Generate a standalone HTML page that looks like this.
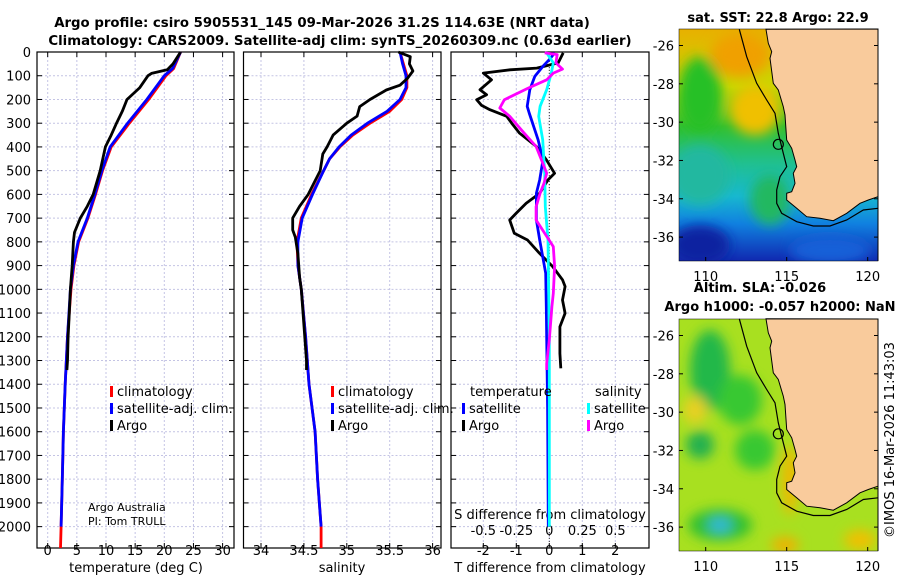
<!DOCTYPE html>
<html><head><meta charset="utf-8"><style>
html,body{margin:0;padding:0;background:#fff;}
svg{display:block;font-family:"DejaVu Sans","Liberation Sans",sans-serif;}
</style></head><body>
<svg id="fig" width="900" height="580" viewBox="0 0 900 580" xmlns="http://www.w3.org/2000/svg">
<defs>
<clipPath id="cm1"><rect x="679" y="29" width="199" height="232"/></clipPath>
<clipPath id="cm2"><rect x="679" y="319" width="199" height="232"/></clipPath>
<linearGradient id="sstg" x1="0" y1="0" x2="0" y2="1">
<stop offset="0" stop-color="#e8b000"/><stop offset="0.25" stop-color="#c8d800"/><stop offset="0.42" stop-color="#30c030"/>
<stop offset="0.58" stop-color="#20c090"/><stop offset="0.72" stop-color="#18b8d0"/><stop offset="0.84" stop-color="#1080e0"/><stop offset="1" stop-color="#1028b0"/>
</linearGradient>
<filter id="blur"><feGaussianBlur stdDeviation="6"/></filter>
</defs>
<text x="322" y="27" text-anchor="middle" font-size="13.3" font-weight="bold">Argo profile: csiro 5905531_145 09-Mar-2026 31.2S 114.63E (NRT data)</text>
<text x="340" y="45" text-anchor="middle" font-size="13.3" font-weight="bold">Climatology: CARS2009. Satellite-adj clim: synTS_20260309.nc (0.63d earlier)</text>
<g id="panels"></g>
<g id="maps">
 <g clip-path="url(#cm1)">
  <rect x="679" y="29" width="199" height="232" fill="url(#sstg)"/>
  <g filter="url(#blur)">
   <ellipse cx="700" cy="95" rx="22" ry="38" fill="#28c028"/>
   <ellipse cx="740" cy="55" rx="30" ry="22" fill="#f0a000"/>
   <ellipse cx="755" cy="110" rx="25" ry="25" fill="#f0c000"/>
   <ellipse cx="700" cy="175" rx="30" ry="30" fill="#20b8a0"/>
   <ellipse cx="700" cy="245" rx="30" ry="20" fill="#0820a0"/>
   <ellipse cx="830" cy="250" rx="40" ry="14" fill="#1860d8"/>
   <ellipse cx="770" cy="200" rx="20" ry="25" fill="#20b860"/>
  </g>
 </g>
 <g clip-path="url(#cm2)">
  <rect x="679" y="319" width="199" height="232" fill="#a8e020"/>
  <g filter="url(#blur)">
   <ellipse cx="710" cy="370" rx="20" ry="40" fill="#20b848"/>
   <ellipse cx="740" cy="400" rx="22" ry="25" fill="#38c830"/>
   <ellipse cx="700" cy="445" rx="14" ry="14" fill="#20b050"/>
   <ellipse cx="755" cy="450" rx="20" ry="20" fill="#38c830"/>
   <ellipse cx="720" cy="525" rx="32" ry="16" fill="#30c030"/>
   <ellipse cx="720" cy="525" rx="12" ry="8" fill="#30b8d8"/>
   <ellipse cx="695" cy="410" rx="12" ry="14" fill="#e8d020"/>
   <ellipse cx="785" cy="545" rx="14" ry="8" fill="#f0b000"/>
   <ellipse cx="860" cy="540" rx="16" ry="10" fill="#f0c000"/>
   <ellipse cx="790" cy="480" rx="8" ry="35" fill="#f0b800"/>
  </g>
 </g>
</g>
<g id="mapover"></g>
<text transform="translate(894,440) rotate(-90)" text-anchor="middle" font-size="13">©IMOS 16-Mar-2026 11:43:03</text>
<text x="778" y="22" text-anchor="middle" font-size="13" font-weight="bold">sat. SST: 22.8 Argo: 22.9</text>
<text x="760" y="292" text-anchor="middle" font-size="13" font-weight="bold">Altim. SLA: -0.026</text>
<text x="780" y="311" text-anchor="middle" font-size="13" font-weight="bold">Argo h1000: -0.057 h2000: NaN</text>
</svg>
<script>
// ---- data ----
const depthTClim = [0,70,100,200,300,400,500,600,700,800,900,1000,1200,1400,1600,1800,2000,2090];
const tempClim = [22.8,21.6,20.3,17.3,14.0,10.9,9.4,8.2,6.9,5.3,4.5,4.0,3.4,3.0,2.7,2.5,2.3,2.2];
const depthTSat = [0,70,100,200,300,400,500,600,700,800,900,1000,1200,1400,1600,1800,2000];
const tempSat = [22.8,21.4,20.0,17.0,13.7,10.7,9.3,8.1,6.8,5.2,4.4,3.9,3.4,3.0,2.7,2.5,2.3];
const depthArgoT = [0,50,75,90,100,150,200,250,300,350,400,500,600,650,700,760,800,900,1000,1100,1200,1300,1340];
const tempArgo = [22.8,21.5,20.5,17.8,17.2,15.8,13.6,12.8,11.8,10.9,9.9,9.0,7.8,6.8,5.6,4.6,4.4,4.2,3.9,3.7,3.5,3.4,3.3];
const depthSClim = [0,50,100,150,200,250,300,350,400,450,500,600,700,800,900,1000,1200,1400,1600,1800,2000,2090];
const salClim = [35.62,35.66,35.70,35.70,35.64,35.50,35.27,35.07,34.92,34.80,34.73,34.59,34.47,34.42,34.43,34.47,34.52,34.56,34.63,34.66,34.70,34.70];
const depthSSat = [0,50,100,150,200,250,300,350,400,450,500,600,700,800,900,1000,1200,1400,1600,1800,2000];
const salSat = [35.62,35.65,35.69,35.69,35.62,35.47,35.24,35.05,34.91,34.80,34.73,34.60,34.48,34.43,34.43,34.47,34.52,34.56,34.63,34.66,34.70];
const depthArgoS = [0,20,50,80,110,140,160,200,230,270,300,350,400,430,500,600,650,700,750,780,850,950,1000,1300,1340];
const salArgo = [35.60,35.74,35.73,35.77,35.71,35.62,35.46,35.27,35.15,35.12,35.00,34.84,34.77,34.72,34.69,34.55,34.45,34.37,34.37,34.40,34.43,34.45,34.47,34.53,34.53];
const depthDTArgo = [4,46,68,75,89,117,159,180,201,225,243,271,300,342,398,454,511,539,595,637,679,708,764,792,848,904,960,988,1045,1101,1158,1270,1333];
const dTArgo = [0.42,0.27,-0.38,-1.19,-2.0,-1.75,-2.1,-1.9,-2.2,-2.05,-1.8,-1.29,-1.14,-0.9,-0.39,-0.09,0.16,-0.04,-0.29,-0.7,-1.0,-1.2,-1.06,-0.66,-0.3,0.1,0.4,0.48,0.4,0.48,0.32,0.32,0.35];
const depthDTSat = [4,32,60,103,159,229,257,370,454,539,595,708,792,932,1073,1500,2000];
const dTSat = [0.16,0.0,-0.19,-0.44,-0.59,-0.67,-0.61,-0.34,-0.19,-0.29,-0.39,-0.39,-0.29,-0.11,-0.09,-0.05,-0.03];
const depthDSSat = [4,46,89,159,229,271,370,511,652,792,1200,2000];
const dSSat = [-0.02,0.03,0.015,-0.02,-0.07,-0.08,-0.05,-0.035,-0.03,-0.01,0,0];
const depthDSArgo = [4,11,46,72,89,117,152,201,236,271,342,398,454,511,553,595,652,708,764,820,904,1017,1073,1213,1312,1340];
const dSArgo = [-0.035,0.06,0.05,0.1,0.03,-0.02,-0.16,-0.34,-0.375,-0.3,-0.19,-0.1,-0.06,-0.02,-0.04,-0.07,-0.1,-0.1,-0.035,0.03,0.04,0.03,0.02,0.0,-0.02,-0.02];
const depthTicks = [0,100,200,300,400,500,600,700,800,900,1000,1100,1200,1300,1400,1500,1600,1700,1800,1900,2000];
const tempTicks = [0,5,10,15,20,25,30];
const salTicks = [34,34.5,35,35.5,36];
const salTickLabels = ["34","34.5","35","35.5","36"];
const dTTicks = [-2,-1,0,1,2];
const dSTicks = [-0.5,-0.25,0,0.25,0.5];
const dSTickLabels = ["-0.5","-0.25","0","0.25","0.5"];
const latTicks = [-26,-28,-30,-32,-34,-36];
const lonTicks = [110,115,120];

// ---- axes ----
const Y0=52, Y1=548, DMAX=2090;
const yD = d => Y0 + d/DMAX*(Y1-Y0);
const xT = t => 47.7 + t*5.83;
const xS = s => 261 + (s-34)*85.8;
const xDT = t => 549.3 + t*33;
const xDS = s => 549.3 + s*4*33;
const NS='http://www.w3.org/2000/svg';
const root=document.getElementById('panels');
function mk(tag,attrs,parent){const e=document.createElementNS(NS,tag);for(const k in attrs)e.setAttribute(k,attrs[k]);(parent||root).appendChild(e);return e;}
function txt(x,y,s,size,anchor,parent){const e=mk('text',{x:x,y:y,'font-size':size,'text-anchor':anchor||'start'},parent);e.textContent=s;return e;}
function line(xs,ds,xf,color,name,w){
  let p='';for(let i=0;i<xs.length;i++){p+=(i?'L':'M')+xf(xs[i]).toFixed(1)+','+yD(ds[i]).toFixed(1);}
  const e=mk('path',{d:p,fill:'none',stroke:color,'stroke-width':w||2.8,'stroke-linejoin':'round'});
  
  
  return e;
}
const panels=[{l:37,r:234,xf:xT,ticks:tempTicks,name:'temperature-panel'},{l:243.5,r:441,xf:xS,ticks:salTicks,name:'salinity-panel'},{l:451,r:649,xf:xDT,ticks:dTTicks,name:'difference-panel'}];
panels.forEach(p=>{
  const g=mk('g',{});
  
  
  depthTicks.forEach(d=>{mk('line',{x1:p.l,x2:p.r,y1:yD(d),y2:yD(d),stroke:'#c4c4e4','stroke-width':1,'stroke-dasharray':'2,2'},g);
    mk('line',{x1:p.l,x2:p.l+5,y1:yD(d),y2:yD(d),stroke:'#000'},g);mk('line',{x1:p.r-5,x2:p.r,y1:yD(d),y2:yD(d),stroke:'#000'},g);});
  p.ticks.forEach(t=>{const x=p.xf(t);mk('line',{x1:x,x2:x,y1:Y0,y2:Y1,stroke:'#c4c4e4','stroke-width':1,'stroke-dasharray':'2,2'},g);
    mk('line',{x1:x,x2:x,y1:Y1-5,y2:Y1,stroke:'#000'},g);mk('line',{x1:x,x2:x,y1:Y0,y2:Y0+5,stroke:'#000'},g);});
  mk('rect',{x:p.l,y:Y0,width:p.r-p.l,height:Y1-Y0,fill:'none',stroke:'#000','stroke-width':1.2},g);
});
const zl=mk('line',{x1:xDT(0),x2:xDT(0),y1:Y0,y2:Y1,stroke:'#333','stroke-width':1,'stroke-dasharray':'1,2'});


depthTicks.forEach(d=>{const e=txt(31,yD(d)+5,String(d),13,'end');
  
  });
tempTicks.forEach(t=>{const e=txt(xT(t),555,String(t),13,'middle');
  
  });
salTicks.forEach((t,i)=>{const e=txt(xS(t),555,salTickLabels[i],13,'middle');
  
  });
dTTicks.forEach(t=>{const e=txt(xDT(t),555,String(t),13,'middle');
  
  });
dSTicks.forEach((t,i)=>{const e=txt(xDS(t),535,dSTickLabels[i],13,'middle');
  
  });
[[136,572,'temperature (deg C)','temp-axis-title'],[342,572,'salinity','sal-axis-title'],[550,572,'T difference from climatology','dt-axis-title'],[550,519,'S difference from climatology','ds-axis-title']].forEach(a=>{
  const e=txt(a[0],a[1],a[2],13,'middle');
  
  });
line(tempClim,depthTClim,xT,'#ff0000','temp-climatology-line');
line(tempSat,depthTSat,xT,'#0000ff','temp-satellite-line');
line(tempArgo,depthArgoT,xT,'#000000','temp-argo-line');
line(salClim,depthSClim,xS,'#ff0000','sal-climatology-line');
line(salSat,depthSSat,xS,'#0000ff','sal-satellite-line');
line(salArgo,depthArgoS,xS,'#000000','sal-argo-line');
line(dTArgo,depthDTArgo,xDT,'#000000','dt-argo-line');
line(dTSat,depthDTSat,xDT,'#0000ff','dt-satellite-line');
line(dSSat,depthDSSat,xDS,'#00ffff','ds-satellite-line');
line(dSArgo,depthDSArgo,xDS,'#ff00ff','ds-argo-line');
function leg(x,y,color,label,name){
  const m=mk('rect',{x:x,y:y-10,width:3,height:11,fill:color});
  
  
  const t=txt(x+7,y,label,13,'start');
  
  
}
leg(110,396,'#ff0000','climatology','legend-temp-climatology');
leg(110,413,'#0000ff','satellite-adj. clim.','legend-temp-satellite');
leg(110,430,'#000000','Argo','legend-temp-argo');
leg(331,396,'#ff0000','climatology','legend-sal-climatology');
leg(331,413,'#0000ff','satellite-adj. clim.','legend-sal-satellite');
leg(331,430,'#000000','Argo','legend-sal-argo');
const lt=txt(470,396,'temperature',13,'start');


const ls=txt(595,396,'salinity',13,'start');


leg(462,413,'#0000ff','satellite','legend-dt-satellite');
leg(462,430,'#000000','Argo','legend-dt-argo');
leg(587,413,'#00ffff','satellite','legend-ds-satellite');
leg(587,430,'#ff00ff','Argo','legend-ds-argo');
const a1=txt(88,511,'Argo Australia',11,'start');


const a2=txt(88,525,'PI: Tom TRULL',11,'start');



// ---- maps ----
const mo=document.getElementById('mapover');
const coast=[[378,88],[385,130],[395,155],[390,175],[400,250],[415,270],[430,320],[435,345],[440,420],[455,445],[465,480],[470,500],[460,520],[465,550],[455,575],[440,580],[440,600],[470,625],[500,650],[540,655],[580,662],[620,640],[660,610],[685,600],[714,590]];
const contour=[[298,88],[320,170],[350,250],[380,300],[405,340],[415,400],[430,460],[440,500],[420,530],[410,570],[410,610],[425,640],[470,665],[520,678],[570,678],[620,660],[670,630],[714,625]];
function mapLayer(off,name,top){
  const g=mk('g',{},mo);
  
  
  const cx=p=>(p[0]/3+640).toFixed(1), cy=p=>(p[1]/3+off).toFixed(1);
  let d='M'+cx(coast[0])+','+cy(coast[0]);coast.forEach(p=>d+='L'+cx(p)+','+cy(p));
  d+='L878,'+(top+232)+' L878,'+top+' Z';
  const land=mk('path',{d:d,fill:'#f9cb9c',stroke:'#000','stroke-width':1},g);
  
  
  let c='';contour.forEach((p,i)=>c+=(i?'L':'M')+cx(p)+','+cy(p));
  mk('path',{d:c,fill:'none',stroke:'#000','stroke-width':1.2},g);
  const circ=mk('circle',{cx:(415/3+640),cy:(433/3+off),r:5,fill:'none',stroke:'#000','stroke-width':1.2},g);
  
  
  mk('rect',{x:679,y:top,width:199,height:232,fill:'none',stroke:'#000','stroke-width':0.5},g);
  latTicks.forEach(l=>{const y=top+16.5+(-26-l)*19.16;
    mk('line',{x1:679,x2:683,y1:y,y2:y,stroke:'#000'},g);mk('line',{x1:874,x2:878,y1:y,y2:y,stroke:'#000'},g);
    const t=txt(674,y+5,String(l),13,'end',g);
    
    });
  lonTicks.forEach(l=>{const x=705.7+(l-110)*16.2;
    mk('line',{x1:x,x2:x,y1:top+228,y2:top+232,stroke:'#000'},g);
    const t=txt(x,top+252,String(l),13,'middle',g);
    
    });
}
mapLayer(0,'sst-map-overlay',29);
mapLayer(289.5,'sla-map-overlay',319);
</script>
</body></html>
